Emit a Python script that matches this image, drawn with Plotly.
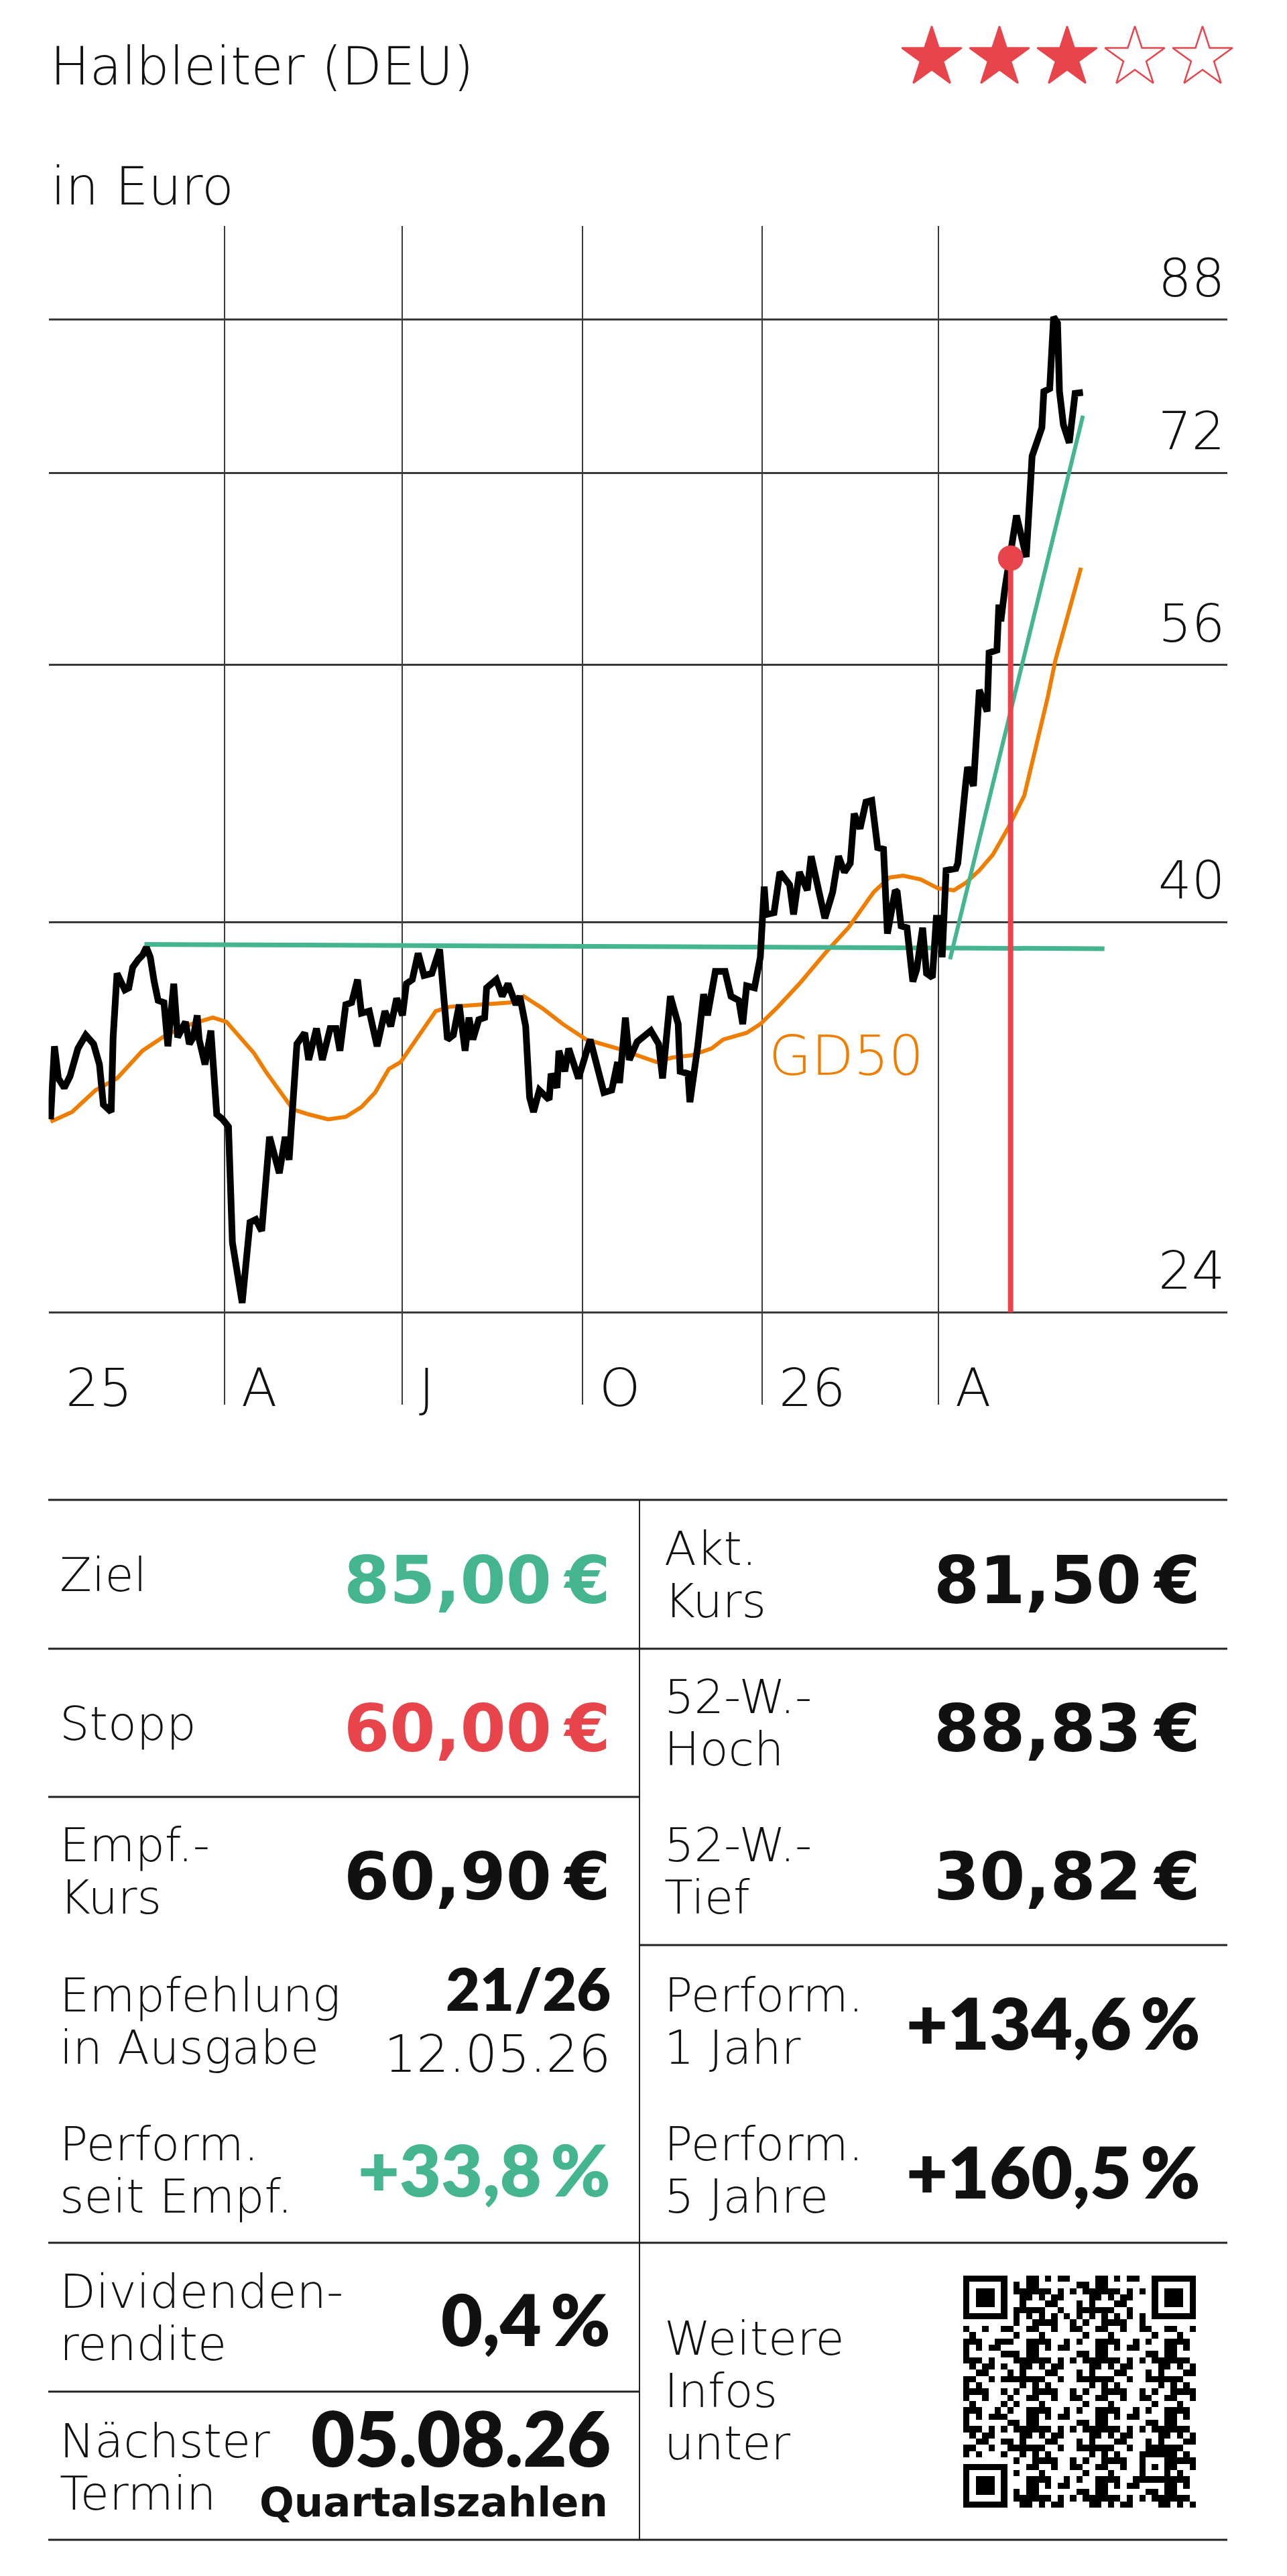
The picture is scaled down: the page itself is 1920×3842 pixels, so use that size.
import math
import plotly.graph_objects as go

W, H = 1920, 3842

# ---------------- data ----------------
title_text = "Halbleiter (DEU)"
unit_text = "in Euro"
rating = 3
rating_max = 5

price_dates = [
    "2025-01-02", "2025-01-04", "2025-01-06", "2025-01-09", "2025-01-12", "2025-01-16", "2025-01-20",
    "2025-01-24", "2025-01-27", "2025-01-29", "2025-02-02", "2025-02-03", "2025-02-05", "2025-02-09",
    "2025-02-11", "2025-02-13", "2025-02-16", "2025-02-18", "2025-02-20", "2025-02-22", "2025-02-24",
    "2025-02-26", "2025-03-01", "2025-03-03", "2025-03-06", "2025-03-08", "2025-03-12", "2025-03-14",
    "2025-03-16", "2025-03-18", "2025-03-19", "2025-03-22", "2025-03-25", "2025-03-28", "2025-03-31",
    "2025-04-03", "2025-04-05", "2025-04-10", "2025-04-14", "2025-04-17", "2025-04-20", "2025-04-24",
    "2025-04-29", "2025-05-02", "2025-05-04", "2025-05-08", "2025-05-12", "2025-05-14", "2025-05-18",
    "2025-05-21", "2025-05-25", "2025-05-28", "2025-05-30", "2025-06-02", "2025-06-05", "2025-06-08",
    "2025-06-10", "2025-06-14", "2025-06-18", "2025-06-22", "2025-06-25", "2025-06-28", "2025-07-01",
    "2025-07-03", "2025-07-06", "2025-07-09", "2025-07-12", "2025-07-16", "2025-07-20", "2025-07-24",
    "2025-07-27", "2025-07-30", "2025-08-02", "2025-08-04", "2025-08-06", "2025-08-09", "2025-08-12",
    "2025-08-13", "2025-08-18", "2025-08-21", "2025-08-24", "2025-08-28", "2025-08-30", "2025-09-02",
    "2025-09-04", "2025-09-06", "2025-09-09", "2025-09-14", "2025-09-15", "2025-09-18", "2025-09-19",
    "2025-09-22", "2025-09-24", "2025-09-29", "2025-10-05", "2025-10-09", "2025-10-12", "2025-10-16",
    "2025-10-19", "2025-10-20", "2025-10-23", "2025-10-25", "2025-10-29", "2025-11-05", "2025-11-09",
    "2025-11-11", "2025-11-15", "2025-11-19", "2025-11-20", "2025-11-24", "2025-11-25", "2025-11-29",
    "2025-12-02", "2025-12-04", "2025-12-08", "2025-12-13", "2025-12-16", "2025-12-20", "2025-12-22",
    "2025-12-24", "2025-12-28", "2025-12-31", "2026-01-02", "2026-01-03", "2026-01-07", "2026-01-10",
    "2026-01-15", "2026-01-17", "2026-01-20", "2026-01-24", "2026-01-26", "2026-01-29", "2026-02-02",
    "2026-02-06", "2026-02-09", "2026-02-12", "2026-02-15", "2026-02-17", "2026-02-20", "2026-02-23",
    "2026-02-26", "2026-03-01", "2026-03-04", "2026-03-06", "2026-03-07", "2026-03-10", "2026-03-11",
    "2026-03-13", "2026-03-16", "2026-03-19", "2026-03-21", "2026-03-24", "2026-03-26", "2026-03-29",
    "2026-03-31", "2026-04-02", "2026-04-03", "2026-04-05", "2026-04-10", "2026-04-11", "2026-04-15",
    "2026-04-16", "2026-04-19", "2026-04-21", "2026-04-22", "2026-04-26", "2026-04-27", "2026-05-01",
    "2026-05-02", "2026-05-03", "2026-05-05", "2026-05-11", "2026-05-16", "2026-05-19", "2026-05-20",
    "2026-05-24", "2026-05-25", "2026-05-28", "2026-05-30", "2026-06-01", "2026-06-02", "2026-06-04",
    "2026-06-07", "2026-06-10", "2026-06-14",
]
price_values = [
    30.9, 34.0, 32.6, 32.2, 32.7, 33.9, 34.5,
    34.1, 33.2, 31.5, 31.2, 34.4, 37.4, 36.6,
    36.7, 37.7, 38.1, 38.3, 38.7, 38.2, 37.0,
    36.1, 36.0, 34.0, 36.9, 34.4, 35.1, 34.1,
    34.4, 35.4, 34.3, 33.2, 34.7, 31.1, 30.9,
    30.6, 26.3, 24.3, 27.0, 27.1, 26.7, 30.2,
    28.8, 30.2, 29.3, 34.1, 34.6, 33.4, 34.8,
    33.4, 34.8, 34.8, 33.8, 35.9, 36.0, 37.1,
    35.5, 35.6, 34.0, 35.6, 34.9, 36.2, 35.4,
    36.9, 37.1, 38.4, 37.3, 37.4, 38.6, 34.3,
    34.5, 35.9, 33.8, 35.3, 34.3, 35.2, 35.3,
    36.7, 37.1, 36.3, 36.9, 35.9, 36.3, 34.9,
    31.8, 31.2, 32.1, 31.7, 32.8, 32.2, 33.8,
    32.9, 33.9, 32.6, 34.3, 33.0, 32.0, 32.1,
    33.3, 32.4, 35.3, 33.4, 34.2, 34.7, 34.1,
    32.6, 36.3, 35.0, 32.9, 32.8, 31.6, 34.0,
    36.4, 35.4, 37.5, 37.5, 36.3, 36.1, 35.0,
    36.8, 36.7, 38.2, 41.9, 40.4, 40.5, 42.7,
    42.0, 40.4, 42.7, 41.7, 43.6, 42.1, 40.2,
    41.6, 43.6, 42.7, 43.2, 46.1, 45.2, 46.8,
    46.9, 44.1, 44.0, 39.4, 39.9, 41.7, 41.6,
    39.8, 39.7, 37.0, 37.6, 39.7, 37.4, 37.2,
    40.2, 40.2, 38.2, 42.8, 42.9, 43.2, 47.9,
    49.0, 47.8, 53.2, 54.2, 52.7, 56.9, 57.1,
    60.6, 59.3, 61.8, 68.1, 64.5, 73.6, 74.1,
    76.4, 80.1, 80.4, 88.3, 87.6, 80.1, 76.7,
    74.9, 79.9, 80.0,
]

gd50_dates = [
    "2025-01-02", "2025-01-13", "2025-01-25", "2025-02-05", "2025-02-18", "2025-03-02", "2025-03-15",
    "2025-03-26", "2025-04-02", "2025-04-10", "2025-04-16", "2025-04-22", "2025-04-28", "2025-05-06",
    "2025-05-14", "2025-05-24", "2025-06-02", "2025-06-10", "2025-06-17", "2025-06-24", "2025-06-30",
    "2025-07-18", "2025-07-25", "2025-08-09", "2025-08-25", "2025-09-01", "2025-09-11", "2025-09-21",
    "2025-10-03", "2025-10-19", "2025-11-08", "2025-11-16", "2025-11-26", "2025-12-06", "2025-12-12",
    "2025-12-24", "2025-12-31", "2026-01-09", "2026-01-20", "2026-02-03", "2026-02-14", "2026-02-27",
    "2026-03-07", "2026-03-14", "2026-03-23", "2026-04-01", "2026-04-09", "2026-04-15", "2026-04-22",
    "2026-04-29", "2026-05-07", "2026-05-15", "2026-05-21", "2026-05-27", "2026-05-31", "2026-06-04",
    "2026-06-13",
]
gd50_values = [
    30.8, 31.2, 32.1, 32.6, 33.8, 34.5, 35.0,
    35.3, 35.1, 34.3, 33.7, 32.9, 32.2, 31.3,
    31.1, 30.9, 31.0, 31.4, 32.0, 33.0, 33.3,
    35.6, 35.8, 35.9, 36.0, 36.3, 35.7, 35.0,
    34.3, 33.9, 33.3, 33.5, 33.6, 33.9, 34.3,
    34.6, 35.0, 35.8, 36.9, 38.5, 39.7, 41.6,
    42.4, 42.5, 42.3, 41.8, 41.7, 42.1, 42.8,
    43.7, 45.3, 47.2, 50.3, 53.7, 56.4, 58.6,
    63.6,
]

resistance_dates = ["2025-02-19", "2026-06-25"]
resistance_values = [38.85, 38.63]
trend_dates = ["2026-04-07", "2026-06-14"]
trend_values = [38.1, 77.6]
entry_date = "2026-05-08"
entry_value = 64.4

y_tick_values = [24, 40, 56, 72, 88]
x_tick_dates = ["2025-01-01", "2025-04-01", "2025-07-01", "2025-10-01", "2026-01-01", "2026-04-01"]
x_tick_labels = ["25", "A", "J", "O", "26", "A"]
ma_label = "GD50"

# ---------------- style ----------------
GREEN = "#45B58F"
RED = "#E7454B"
ORANGE = "#EF7D00"
INK = "#111111"
GRID = "#3a3a3a"
LIGHT = "'DejaVu Sans', Lato, sans-serif"
BOLD_WIDE = "'DejaVu Sans', Lato, sans-serif"
BOLD = "Lato, 'Noto Sans', sans-serif"
CAPK = {LIGHT: 0.31, BOLD: 0.37}   # baseline -> middle of text box, in font sizes

X0, X1 = 72.5, 1831.0          # chart left / right (px)
Y_TOP, Y_BOT = 337.0, 2095.0    # chart top / bottom (px)

fig = go.Figure()

fig.add_trace(go.Scatter(x=gd50_dates, y=gd50_values, mode="lines",
                         line=dict(color=ORANGE, width=6), hoverinfo="skip"))
fig.add_trace(go.Scatter(x=resistance_dates, y=resistance_values, mode="lines",
                         line=dict(color=GREEN, width=7), hoverinfo="skip"))
fig.add_trace(go.Scatter(x=trend_dates, y=trend_values, mode="lines",
                         line=dict(color=GREEN, width=6), hoverinfo="skip"))
fig.add_trace(go.Scatter(x=price_dates, y=price_values, mode="lines",
                         line=dict(color="#000000", width=10), hoverinfo="skip"))
fig.add_trace(go.Scatter(x=[entry_date, entry_date], y=[min(y_tick_values), entry_value], mode="lines",
                         line=dict(color=RED, width=8), hoverinfo="skip"))
fig.add_trace(go.Scatter(x=[entry_date], y=[entry_value], mode="markers",
                         marker=dict(color=RED, size=38), hoverinfo="skip"))

annotations = []


def txt(x, baseline, text, size, weight=200, color=INK, anchor="left", family=LIGHT):
    k = CAPK[family] + (0.02 if (family == LIGHT and weight >= 600) else 0.0)
    annotations.append(dict(
        x=x / W, y=1 - (baseline - k * size) / H, xref="paper", yref="paper",
        text=text, showarrow=False, xanchor=anchor, yanchor="middle", borderpad=0,
        font=dict(family=family, size=size, color=color, weight=weight)))


for v in y_tick_values:
    annotations.append(dict(
        x=1828 / W, xref="paper", y=math.log10(v), yref="y", text=str(v), showarrow=False,
        xanchor="right", yanchor="middle", yshift=38 + CAPK[LIGHT] * 78, borderpad=0,
        font=dict(family=LIGHT, size=78, color=INK, weight=200)))
for d, t in zip(x_tick_dates, x_tick_labels):
    annotations.append(dict(
        x=d, xref="x", y=1 - (2094 - CAPK[LIGHT] * 78) / H, yref="paper", text=t, showarrow=False,
        xanchor="left", yanchor="middle", xshift=24, borderpad=0,
        font=dict(family=LIGHT, size=78, color=INK, weight=200)))

txt(74, 123, title_text, 78)
txt(75, 302, unit_text, 78)
txt(1146, 1600, ma_label, 82, color=ORANGE)

# ---------------- table ----------------
LX, LV = 88, 912
RX, RV = 990, 1792
EUR = 98
PCT = 107
LAB = 70

txt(LX, 2371, "Ziel", LAB)
txt(LV, 2389, "85,00\u2009€", EUR, 700, GREEN, "right", BOLD_WIDE)
txt(LX, 2593, "Stopp", LAB)
txt(LV, 2610, "60,00\u2009€", EUR, 700, RED, "right", BOLD_WIDE)
txt(LX, 2774, "Empf.-", LAB)
txt(LX, 2852, "Kurs", LAB)
txt(LV, 2831, "60,90\u2009€", EUR, 700, INK, "right", BOLD_WIDE)
txt(LX, 2998, "Empfehlung", LAB)
txt(LX, 3076, "in Ausgabe", LAB)
txt(LV, 2998, "21/26", 88, 800, INK, "right", BOLD)
txt(LV, 3087, "12.05.26", 76, 200, INK, "right", LIGHT)
txt(LX, 3220, "Perform.", LAB)
txt(LX, 3298, "seit Empf.", LAB)
txt(LV, 3274, "+33,8\u2009%", PCT, 800, GREEN, "right", BOLD)
txt(LX, 3440, "Dividenden-", LAB)
txt(LX, 3518, "rendite", LAB)
txt(LV, 3497, "0,4\u2009%", PCT, 800, INK, "right", BOLD)
txt(LX, 3663, "Nächster", LAB)
txt(LX, 3741, "Termin", LAB)
txt(LV, 3677, "05.08.26", 113, 800, INK, "right", BOLD)
txt(LV - 4, 3752, "Quartalszahlen", 61, 700, INK, "right", BOLD_WIDE)

txt(RX, 2332, "Akt.", LAB)
txt(RX, 2410, "Kurs", LAB)
txt(RV, 2389, "81,50\u2009€", EUR, 700, INK, "right", BOLD_WIDE)
txt(RX, 2553, "52-W.-", LAB)
txt(RX, 2631, "Hoch", LAB)
txt(RV, 2610, "88,83\u2009€", EUR, 700, INK, "right", BOLD_WIDE)
txt(RX, 2774, "52-W.-", LAB)
txt(RX, 2852, "Tief", LAB)
txt(RV, 2831, "30,82\u2009€", EUR, 700, INK, "right", BOLD_WIDE)
txt(RX, 2998, "Perform.", LAB)
txt(RX, 3076, "1 Jahr", LAB)
txt(RV, 3055, "+134,6\u2009%", PCT, 800, INK, "right", BOLD)
txt(RX, 3220, "Perform.", LAB)
txt(RX, 3298, "5 Jahre", LAB)
txt(RV, 3277, "+160,5\u2009%", PCT, 800, INK, "right", BOLD)
txt(RX, 3510, "Weitere", LAB)
txt(RX, 3588, "Infos", LAB)
txt(RX, 3666, "unter", LAB)

shapes = []


def hline(y, xa, xb):
    shapes.append(dict(type="line", xref="paper", yref="paper", x0=xa / W, x1=xb / W,
                       y0=1 - y / H, y1=1 - y / H, line=dict(color="#222", width=3)))


hline(2237, 72, 1831)
hline(2459, 72, 1831)
hline(2680, 72, 954)
hline(2901, 954, 1831)
hline(3345, 72, 1831)
hline(3567, 72, 954)
hline(3788, 72, 1831)
shapes.append(dict(type="line", xref="paper", yref="paper", x0=954 / W, x1=954 / W,
                   y0=1 - 2237 / H, y1=1 - 3788 / H, line=dict(color="#222", width=2)))

# ---------------- rating stars ----------------
star_x = [1390 + 101 * i for i in range(rating_max)]
fig.add_trace(go.Scatter(
    x=star_x, y=[86] * rating_max, xaxis="x2", yaxis="y2", mode="markers",
    marker=dict(symbol=["star" if i < rating else "star-open" for i in range(rating_max)],
                size=67, color=RED, line=dict(color=RED, width=2.5)),
    hoverinfo="skip", cliponaxis=False))

# ---------------- QR code pattern ----------------
N = 37
qr = [[1 if ((r * r * 3 + c * c * 5 + r * c * 7 + r + 2 * c) % 11) < 5 else 0 for c in range(N)] for r in range(N)]


def finder(r0, c0):
    for r in range(-1, 8):
        for c in range(-1, 8):
            rr, cc = r0 + r, c0 + c
            if 0 <= rr < N and 0 <= cc < N:
                on = (0 <= r <= 6 and 0 <= c <= 6) and (r in (0, 6) or c in (0, 6) or (2 <= r <= 4 and 2 <= c <= 4))
                qr[rr][cc] = 1 if on else 0


finder(0, 0)
finder(0, N - 7)
finder(N - 7, 0)
for i in range(8, N - 8):
    qr[6][i] = 1 if i % 2 == 0 else 0
    qr[i][6] = 1 if i % 2 == 0 else 0
for r in range(-2, 3):
    for c in range(-2, 3):
        qr[30 + r][30 + c] = 1 if (max(abs(r), abs(c)) != 1) else 0

fig.add_trace(go.Heatmap(z=qr, xaxis="x3", yaxis="y3", colorscale=[[0, "#ffffff"], [1, "#000000"]],
                         showscale=False, hoverinfo="skip", zmin=0, zmax=1))

fig.update_layout(
    width=W, height=H, margin=dict(l=0, r=0, t=0, b=0),
    paper_bgcolor="white", plot_bgcolor="rgba(0,0,0,0)", showlegend=False,
    xaxis=dict(domain=[X0 / W, X1 / W], type="date",
               range=["2025-01-01", "2026-08-26 20:24"],
               tickvals=x_tick_dates, showticklabels=False, ticks="",
               showgrid=True, gridcolor=GRID, gridwidth=2, zeroline=False, showline=False),
    yaxis=dict(domain=[1 - Y_BOT / H, 1 - Y_TOP / H], type="log",
               range=[1.327753, 1.997722], tickvals=y_tick_values, showticklabels=False, ticks="",
               showgrid=True, gridcolor=GRID, gridwidth=3, zeroline=False, showline=False),
    xaxis2=dict(domain=[1300 / W, 1880 / W], range=[1300, 1880], visible=False, anchor="y2"),
    yaxis2=dict(domain=[1 - 150 / H, 1 - 20 / H], range=[150, 20], visible=False, anchor="x2"),
    xaxis3=dict(domain=[1437 / W, 1784 / W], range=[-0.5, N - 0.5], visible=False, anchor="y3"),
    yaxis3=dict(domain=[1 - 3740 / H, 1 - 3394 / H], range=[N - 0.5, -0.5], visible=False, anchor="x3"),
    annotations=annotations, shapes=shapes,
    font=dict(family=LIGHT, color=INK),
)

fig.write_html("out.html")
